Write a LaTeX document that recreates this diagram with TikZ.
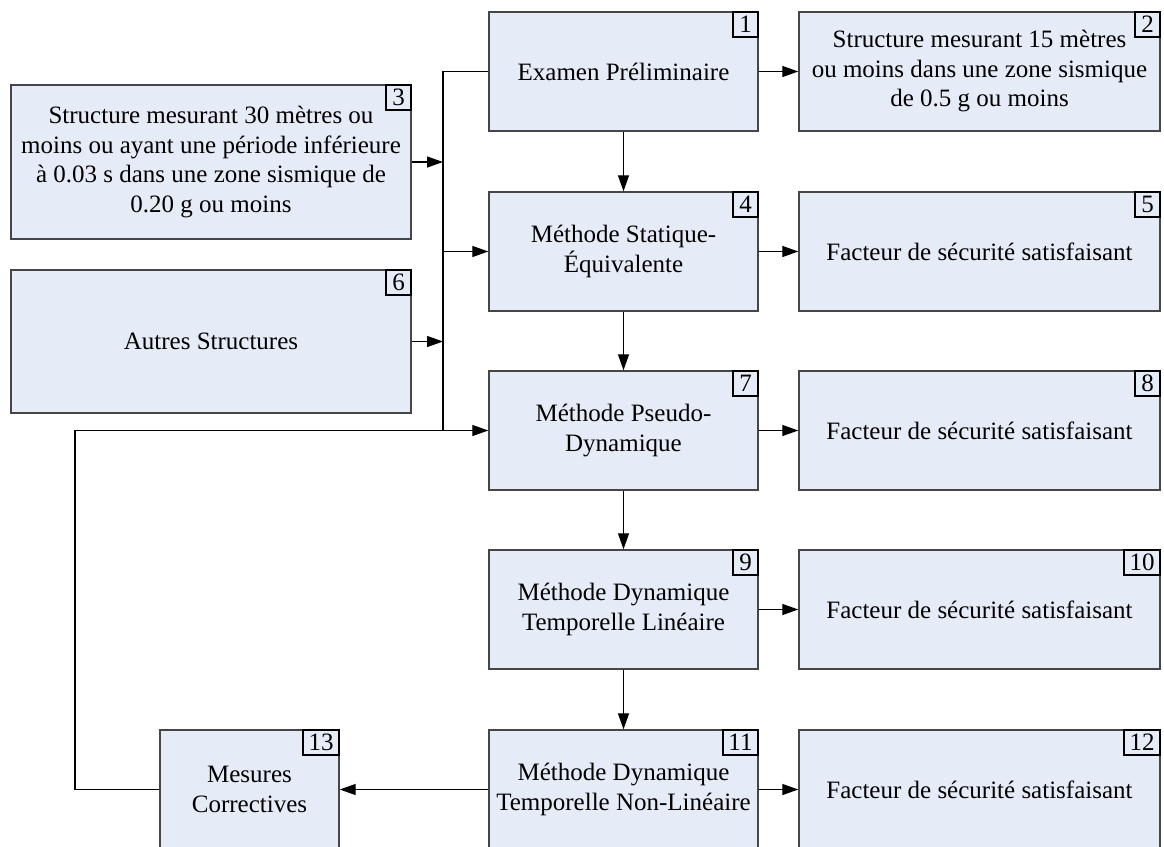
\documentclass[tikz,border=0pt]{standalone}
\usepackage{fontspec}
\setmainfont{Liberation Serif}
\usetikzlibrary{arrows.meta}
\definecolor{boxfill}{RGB}{230,236,247}
\definecolor{boxline}{RGB}{70,70,70}
\tikzset{
  box/.style={draw=boxline, line width=1.4pt, fill=boxfill, align=center,
    inner sep=0pt, font=\fontsize{25}{29.5}\selectfont},
  lbl/.style={draw=black, line width=1.3pt, fill=boxfill, anchor=north east,
    inner xsep=5.5pt, inner ysep=0pt, minimum width=25pt, minimum height=25pt,
    font=\fontsize{25}{29.5}\selectfont},
  conn/.style={draw=black, line width=1.3pt},
  arr/.style={conn, -{Triangle[length=16pt,width=11pt]}}
}
\begin{document}
\begin{tikzpicture}[x=1pt,y=1pt]
\useasboundingbox (0,0) rectangle (1164,-846);
% middle column
\node[box, minimum width=269pt, minimum height=119pt] (b1) at (623.5,-71.5) {Examen Préliminaire};
\node[box, minimum width=269pt, minimum height=119pt] (b4) at (623.5,-251.5) {Méthode Statique-\\Équivalente};
\node[box, minimum width=269pt, minimum height=119pt] (b7) at (623.5,-430.5) {Méthode Pseudo-\\Dynamique};
\node[box, minimum width=269pt, minimum height=119pt] (b9) at (623.5,-609.5) {Méthode Dynamique\\Temporelle Linéaire};
\node[box, minimum width=269pt, minimum height=119pt] (b11) at (623.5,-789.5) {Méthode Dynamique\\Temporelle Non-Linéaire};
% right column
\node[box, minimum width=361pt, minimum height=119pt] (b2) at (979.5,-71.5) {Structure mesurant 15 mètres\\ou moins dans une zone sismique\\de 0.5 g ou moins};
\node[box, minimum width=361pt, minimum height=119pt] (b5) at (979.5,-251.5) {Facteur de sécurité satisfaisant};
\node[box, minimum width=361pt, minimum height=119pt] (b8) at (979.5,-430.5) {Facteur de sécurité satisfaisant};
\node[box, minimum width=361pt, minimum height=119pt] (b10) at (979.5,-609.5) {Facteur de sécurité satisfaisant};
\node[box, minimum width=361pt, minimum height=119pt] (b12) at (979.5,-789.5) {Facteur de sécurité satisfaisant};
% left column
\node[box, minimum width=400pt, minimum height=154pt] (b3) at (211,-162) {Structure mesurant 30 mètres ou\\moins ou ayant une période inférieure\\à 0.03 s dans une zone sismique de\\0.20 g ou moins};
\node[box, minimum width=400pt, minimum height=143pt] (b6) at (211,-341.5) {Autres Structures};
\node[box, minimum width=179pt, minimum height=119pt] (b13) at (249.5,-789.5) {Mesures\\Correctives};
% number labels
\node[lbl] (l1) at (b1.north east) {1};
\node[lbl] (l2) at (b2.north east) {2};
\node[lbl] (l3) at (b3.north east) {3};
\node[lbl] (l4) at (b4.north east) {4};
\node[lbl] (l5) at (b5.north east) {5};
\node[lbl] (l6) at (b6.north east) {6};
\node[lbl] (l7) at (b7.north east) {7};
\node[lbl] (l8) at (b8.north east) {8};
\node[lbl] (l9) at (b9.north east) {9};
\node[lbl] (l10) at (b10.north east) {10};
\node[lbl] (l11) at (b11.north east) {11};
\node[lbl] (l12) at (b12.north east) {12};
\node[lbl] (l13) at (b13.north east) {13};
% trunk coordinates
\coordinate (ttop) at (443,-71.5);
\coordinate (t3) at (443,-162);
\coordinate (t4) at (443,-251.5);
\coordinate (t6) at (443,-341.5);
\coordinate (tbot) at (443,-430.5);
\coordinate (fb) at (75,-430.5);
\coordinate (fbb) at (75,-789.5);
% trunk
\draw[conn] (b1.west) -- (ttop) -- (tbot);
\draw[arr] (b3.east) -- (t3);
\draw[arr] (b6.east) -- (t6);
\draw[arr] (t4) -- (b4.west);
% feedback
\draw[arr] (b13.west) -- (fbb) -- (fb) -- (b7.west);
% vertical arrows
\draw[arr] (b1.south) -- (b4.north);
\draw[arr] (b4.south) -- (b7.north);
\draw[arr] (b7.south) -- (b9.north);
\draw[arr] (b9.south) -- (b11.north);
% right arrows
\draw[arr] (b1.east) -- (b2.west);
\draw[arr] (b4.east) -- (b5.west);
\draw[arr] (b7.east) -- (b8.west);
\draw[arr] (b9.east) -- (b10.west);
\draw[arr] (b11.east) -- (b12.west);
% to corrective measures
\draw[arr] (b11.west) -- (b13.east);
\end{tikzpicture}
\end{document}
